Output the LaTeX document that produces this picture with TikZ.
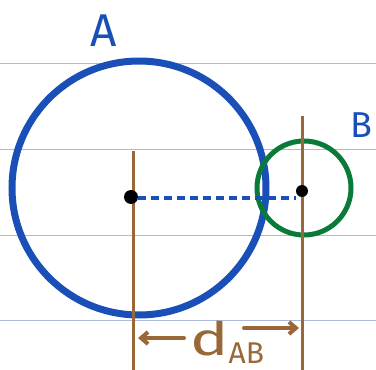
\documentclass[tikz,border=0pt]{standalone}
\usepackage{fontspec}
\setsansfont{Fira Sans}
\usetikzlibrary{arrows.meta}
\definecolor{lineBlue}{HTML}{A9B9D6}
\definecolor{circBlue}{HTML}{1A4FB8}
\definecolor{circGreen}{HTML}{0A7A38}
\definecolor{rulerBrown}{HTML}{9A6838}
\begin{document}
\begin{tikzpicture}[>={Straight Barb[length=7pt,width=12pt]}, x=1pt, y=-1pt]

% --- Stijldefinities ---
\tikzset{
    paperLine/.style={
        draw=lineBlue,
        line width=1pt
    },
    bigSphere/.style={
        draw=circBlue,
        line width=7pt
    },
    smallSphere/.style={
        draw=circGreen,
        line width=5pt
    },
    rulerLine/.style={
        draw=rulerBrown,
        line width=3pt
    },
    arrowLine/.style={
        draw=rulerBrown,
        line width=4pt,
        line cap=round,
        ->
    },
    centerDot/.style={
        circle,
        fill=black,
        inner sep=0pt,
        minimum size=14pt
    },
    sphereLabel/.style={
        text=circBlue,
        font=\sffamily\fontsize{46}{46}\selectfont
    },
    distLabel/.style={
        text=rulerBrown,
        inner sep=0pt,
        font=\sffamily\fontsize{46}{46}\selectfont
    }
}

\useasboundingbox (0,0) rectangle (376,370);

% Lijntjes van het papier
\foreach \y in {63,149,235,320}
    \draw[paperLine] (0,\y) -- (376,\y);

% =========================================================
% Bollen A en B
% =========================================================

\draw[bigSphere] (139,188) circle (127);
\draw[smallSphere] (304,188) circle (47);

% Verticale hulplijnen
\coordinate (rulerAtop) at (133,151);
\coordinate (rulerAbot) at (133,370);
\coordinate (rulerBtop) at (302,116);
\coordinate (rulerBbot) at (302,370);
\draw[rulerLine] (rulerAtop) -- (rulerAbot);
\draw[rulerLine] (rulerBtop) -- (rulerBbot);

% Middelpunten en afstand
\node[centerDot] (dotA) at (131,197) {};
\node[centerDot, minimum size=12pt] (dotB) at (302,191) {};
\draw[draw=circBlue, line width=4pt, dash pattern=on 8pt off 5pt]
    (dotA.east |- 0,198) -- (dotB.west |- 0,198);

% Labels
\node[sphereLabel] (labelA) at (104,31) {A};
\node[sphereLabel, font=\sffamily\fontsize{36}{36}\selectfont] (labelB) at (361,125) {B};
\node[distLabel, anchor=base west] (labelD) at (190,355)
    {\scalebox{1.4}[1]{d}\raisebox{-8pt}{\fontsize{30}{30}\selectfont AB}};

% Pijlen onder de afstand
\coordinate (arrLstart) at (184,338);
\coordinate (arrLend) at (138,338);
\coordinate (arrRstart) at (244,328);
\coordinate (arrRend) at (299,328);
\draw[arrowLine] (arrLstart) -- (arrLend);
\draw[arrowLine] (arrRstart) -- (arrRend);

\end{tikzpicture}
\end{document}
